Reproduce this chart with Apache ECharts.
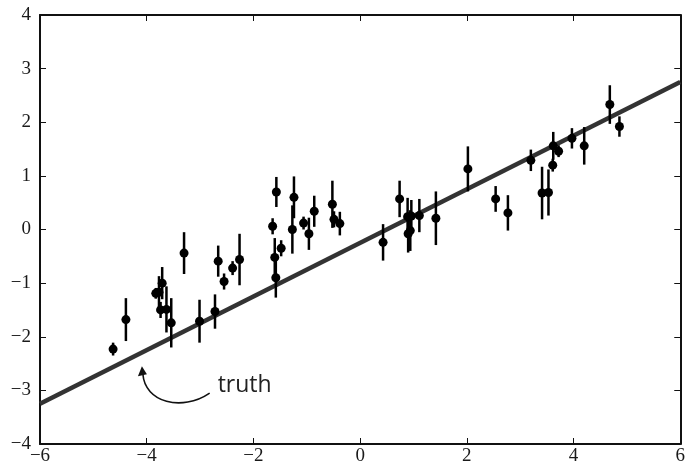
<!DOCTYPE html>
<html>
<head>
<meta charset="utf-8">
<script src="https://cdn.jsdelivr.net/npm/echarts@6/dist/echarts.min.js"></script>
<style>
  html, body { margin: 0; padding: 0; background: #fff; }
  #chart { width: 688px; height: 467px; }
</style>
</head>
<body>
<div id="chart"></div>
<script>
// Observed points: x, y and the half-length of each error bar
const xObs = [-4.63, -4.39, -3.83, -3.77, -3.71, -3.74, -3.63, -3.54, -3.30, -3.01,
              -2.72, -2.66, -2.55, -2.39, -2.26, -1.64, -1.57, -1.60, -1.58, -1.48,
              -1.27, -1.24, -1.06, -0.96, -0.86, -0.52, -0.49, -0.38, 0.43, 0.74,
              0.89, 0.96, 0.94, 0.90, 1.11, 1.42, 2.02, 2.54, 2.77, 3.20,
              3.41, 3.53, 3.62, 3.61, 3.72, 3.97, 4.20, 4.68, 4.86];
const yObs = [-2.23, -1.68, -1.19, -1.17, -1.00, -1.50, -1.49, -1.74, -0.44, -1.71,
              -1.53, -0.59, -0.97, -0.72, -0.56, 0.06, 0.70, -0.52, -0.90, -0.35,
              0.00, 0.60, 0.12, -0.08, 0.34, 0.47, 0.19, 0.11, -0.24, 0.57,
              0.24, 0.25, -0.02, -0.08, 0.26, 0.21, 1.13, 0.57, 0.31, 1.29,
              0.68, 0.69, 1.56, 1.20, 1.46, 1.70, 1.56, 2.33, 1.92];
const yErr = [0.12, 0.40, 0.10, 0.30, 0.30, 0.15, 0.43, 0.46, 0.39, 0.40,
              0.32, 0.29, 0.15, 0.13, 0.48, 0.15, 0.28, 0.36, 0.37, 0.15,
              0.45, 0.39, 0.12, 0.30, 0.29, 0.44, 0.15, 0.22, 0.34, 0.34,
              0.35, 0.30, 0.38, 0.35, 0.31, 0.50, 0.42, 0.24, 0.33, 0.20,
              0.49, 0.43, 0.26, 0.12, 0.11, 0.19, 0.35, 0.36, 0.19];

// True relation, drawn across the full x range
const truthX = [-6, 6];
const truthY = [-3.25, 2.75];

// Tick values
const xTicks = [-6, -4, -2, 0, 2, 4, 6];
const yTicks = [-4, -3, -2, -1, 0, 1, 2, 3, 4];

// Annotation anchor points (data coordinates): label, arrow tail, arrow head
const noteLabel = ['truth', -2.67, -2.90];
const arrowTail = [-2.82, -3.05];
const arrowHead = [-4.09, -2.55];

const points = xObs.map((x, i) => [x, yObs[i]]);
const bars = xObs.map((x, i) => [x, yObs[i] - yErr[i], yObs[i] + yErr[i]]);
const truth = truthX.map((x, i) => [x, truthY[i]]);

const fmt = v => String(v).replace('-', '\u2212');
const tickFont = { fontFamily: 'Liberation Serif', fontSize: 19, color: '#1a1a1a' };

function axis(extra) {
  return Object.assign({
    type: 'value',
    splitLine: { show: false },
    axisLine: { show: true, onZero: false, lineStyle: { color: '#111', width: 2 } },
    axisTick: { show: true, inside: true, length: 6, lineStyle: { color: '#111', width: 1 } }
  }, extra);
}

const chart = echarts.init(document.getElementById('chart'));

chart.setOption({
  animation: false,
  backgroundColor: '#fff',
  textStyle: { fontFamily: 'Liberation Serif', fontSize: 19 },
  grid: { left: 40, right: 5, top: 15, bottom: 23, containLabel: false },
  xAxis: [
    axis({ min: xTicks[0], max: xTicks[xTicks.length - 1], interval: 2, position: 'bottom',
           axisLabel: Object.assign({ formatter: fmt, margin: 3 }, tickFont) }),
    axis({ min: xTicks[0], max: xTicks[xTicks.length - 1], interval: 2, position: 'top',
           axisLabel: { show: false } })
  ],
  yAxis: [
    axis({ min: yTicks[0], max: yTicks[yTicks.length - 1], interval: 1, position: 'left',
           axisLabel: Object.assign({ formatter: fmt, margin: 9 }, tickFont) }),
    axis({ min: yTicks[0], max: yTicks[yTicks.length - 1], interval: 1, position: 'right',
           axisLabel: { show: false } })
  ],
  series: [
    {
      type: 'line',
      data: truth,
      showSymbol: false,
      lineStyle: { color: '#333', width: 4.5 },
      z: 2
    },
    {
      type: 'custom',
      data: bars,
      renderItem: (params, api) => {
        const lo = api.coord([api.value(0), api.value(1)]);
        const hi = api.coord([api.value(0), api.value(2)]);
        return {
          type: 'line',
          shape: { x1: lo[0], y1: lo[1], x2: hi[0], y2: hi[1] },
          style: { stroke: '#000', lineWidth: 2.5 }
        };
      },
      z: 3
    },
    {
      type: 'scatter',
      data: points,
      symbol: 'circle',
      symbolSize: 9,
      itemStyle: { color: '#000', opacity: 1 },
      z: 4
    },
    {
      type: 'custom',
      data: [[noteLabel[1], noteLabel[2]]],
      renderItem: (params, api) => {
        const t = api.coord([noteLabel[1], noteLabel[2]]);
        const a = api.coord(arrowTail);
        const h = api.coord(arrowHead);
        // curved arrow: dips below, then rises into the head
        const c1 = [a[0] - 28, a[1] + 19];
        const c2 = [h[0] + 3, h[1] + 36];
        const end = [h[0] + 1, h[1] + 8];
        return {
          type: 'group',
          children: [
            {
              type: 'bezierCurve',
              shape: { x1: a[0], y1: a[1], x2: end[0], y2: end[1],
                       cpx1: c1[0], cpy1: c1[1], cpx2: c2[0], cpy2: c2[1] },
              style: { stroke: '#111', lineWidth: 1.6, fill: null }
            },
            {
              type: 'polygon',
              shape: { points: [[h[0], h[1]], [h[0] - 4, h[1] + 10], [h[0] + 5, h[1] + 8]] },
              style: { fill: '#111' }
            },
            {
              type: 'text',
              style: {
                x: t[0], y: t[1], text: noteLabel[0],
                font: '23px "Open Sans", "Noto Sans", sans-serif',
                fill: '#222', textAlign: 'left', textVerticalAlign: 'middle'
              }
            }
          ]
        };
      },
      z: 5
    }
  ]
});
</script>
</body>
</html>
